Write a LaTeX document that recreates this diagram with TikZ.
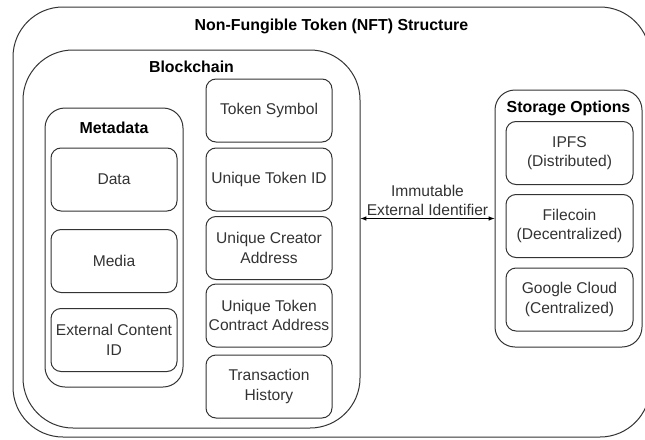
\documentclass[tikz,border=0pt]{standalone}
\usepackage{fontspec}
\setmainfont{Liberation Sans}
\usepackage{tikz}
\usetikzlibrary{positioning}
\definecolor{linegray}{HTML}{333333}

\begin{document}
\begin{tikzpicture}
    [
    x=1pt, y=-1pt,
    every node/.style={font=\fontsize{15.6}{19.5}\selectfont, text=linegray},
    frame/.style={draw=linegray, line width=1pt, rounded corners=#1, inner sep=0pt},
    item/.style={frame=10pt, minimum width=126pt, minimum height=63pt, align=center},
    title/.style={font=\fontsize{15.9}{19.5}\selectfont\bfseries, text=black, inner sep=0pt},
    ]
    \useasboundingbox (0,0) rectangle (645,439);
    \clip (0,0) rectangle (645,439);

    % containers
    \node (nft) at (331.5,222) [frame=50pt, minimum width=637pt, minimum height=430pt] {};
    \node (chain) at (191.5,239) [frame=50pt, minimum width=337pt, minimum height=378pt] {};
    \node (meta) at (114,247.5) [frame=20pt, minimum width=138pt, minimum height=279pt] {};
    \node (store) at (568.5,218.5) [frame=20pt, minimum width=147pt, minimum height=257pt] {};

    \node (nfttitle) [title, below=12pt of nft.north] {Non-Fungible Token (NFT) Structure};
    \node (chaintitle) [title, below=11pt of chain.north] {Blockchain};
    \node (metatitle) [title, below=14pt of meta.north] {Metadata};
    \node (storetitle) [title, below=11pt of store.north] {Storage Options};

    % metadata
    \node (data) at (114,179.5) [item] {Data};
    \node (media) at (114,261) [item] {Media};
    \node (extid) at (114,340) [item] {External Content\\ID};

    % token fields
    \node (symbol) at (269,110.5) [item] {Token Symbol};
    \node (tokenid) at (269,179.5) [item] {Unique Token ID};
    \node (creator) at (269,248) [item] {Unique Creator\\Address};
    \node (contract) at (269,315.5) [item] {Unique Token\\Contract Address};
    \node (history) at (269,386.5) [item] {Transaction\\History};

    % storage
    \node (ipfs) at (569.5,153) [item, minimum width=127pt] {IPFS\\(Distributed)};
    \node (filecoin) at (569.5,226) [item, minimum width=127pt] {Filecoin\\(Decentralized)};
    \node (gcloud) at (569.5,299.5) [item, minimum width=127pt] {Google Cloud\\(Centralized)};

    \draw [latex-latex, draw=black, line width=1pt] (chain.east |- store.west) to
        node [above, align=center, inner sep=2pt] {Immutable\\External Identifier} (store.west);
\end{tikzpicture}
\end{document}
